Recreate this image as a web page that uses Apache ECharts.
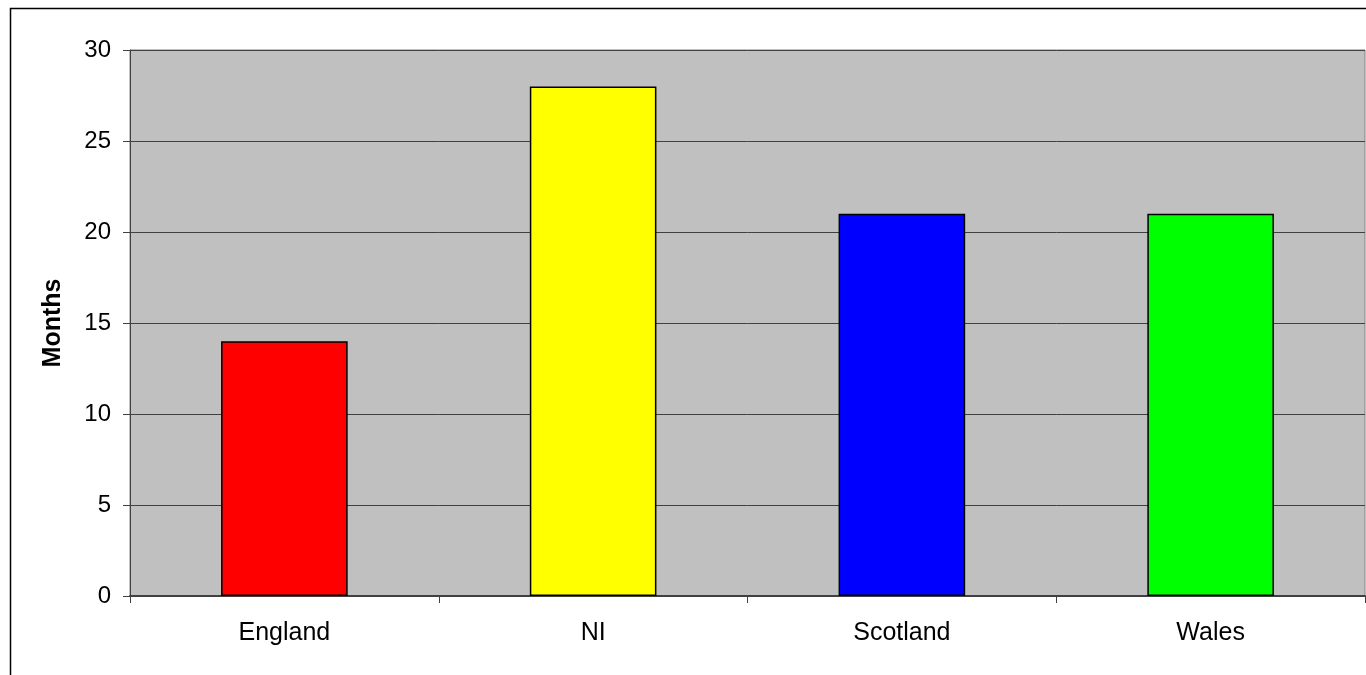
<!DOCTYPE html>
<html>
<head>
<meta charset="utf-8">
<script src="https://cdn.jsdelivr.net/npm/echarts@6/dist/echarts.min.js"></script>
<style>
html,body{margin:0;padding:0;background:#fff;}
#chart{width:1366px;height:675px;}
</style>
</head>
<body>
<div id="chart"></div>
<script>
var categories = ['England', 'NI', 'Scotland', 'Wales'];
var values = [14, 28, 21, 21];
var barColors = ['#FF0000', '#FFFF00', '#0000FF', '#00FF00'];
var yTicks = [0, 5, 10, 15, 20, 25, 30];

var chart = echarts.init(document.getElementById('chart'), null, {renderer: 'canvas'});
var font = 'Arial, "Liberation Sans", sans-serif';
chart.setOption({
  animation: false,
  backgroundColor: '#ffffff',
  graphic: [{
    type: 'rect', z: -10, silent: true,
    shape: {x: 10.5, y: 8.5, width: 1400, height: 720},
    style: {fill: 'none', stroke: '#000', lineWidth: 1.5}
  }],
  grid: {left: 130, right: 1, top: 50, bottom: 79, show: true, backgroundColor: '#C0C0C0', borderColor: '#808080', borderWidth: 1},
  xAxis: {
    type: 'category', data: categories,
    axisLine: {show: true, lineStyle: {color: '#404040', width: 2}},
    axisTick: {show: true, alignWithLabel: false, length: 7, lineStyle: {color: '#404040'}},
    axisLabel: {color: '#000', fontSize: 25, fontFamily: font, margin: 25}
  },
  yAxis: {
    type: 'value', min: yTicks[0], max: yTicks[yTicks.length - 1], interval: 5,
    name: 'Months', nameLocation: 'middle', nameGap: 64, nameRotate: 90,
    nameTextStyle: {fontSize: 25, fontWeight: 'bold', fontFamily: font, color: '#000'},
    axisLine: {show: true, lineStyle: {color: '#404040', width: 1}},
    axisTick: {show: true, length: 7, lineStyle: {color: '#404040'}},
    axisLabel: {color: '#000', fontSize: 24, fontFamily: font, margin: 19},
    splitLine: {show: true, lineStyle: {color: '#404040', width: 1}}
  },
  series: [{
    type: 'bar',
    data: values.map(function (v, i) { return {value: v, itemStyle: {color: barColors[i]}}; }),
    barWidth: '41%',
    itemStyle: {borderColor: '#000', borderWidth: 1.5}
  }]
});
</script>
</body>
</html>
